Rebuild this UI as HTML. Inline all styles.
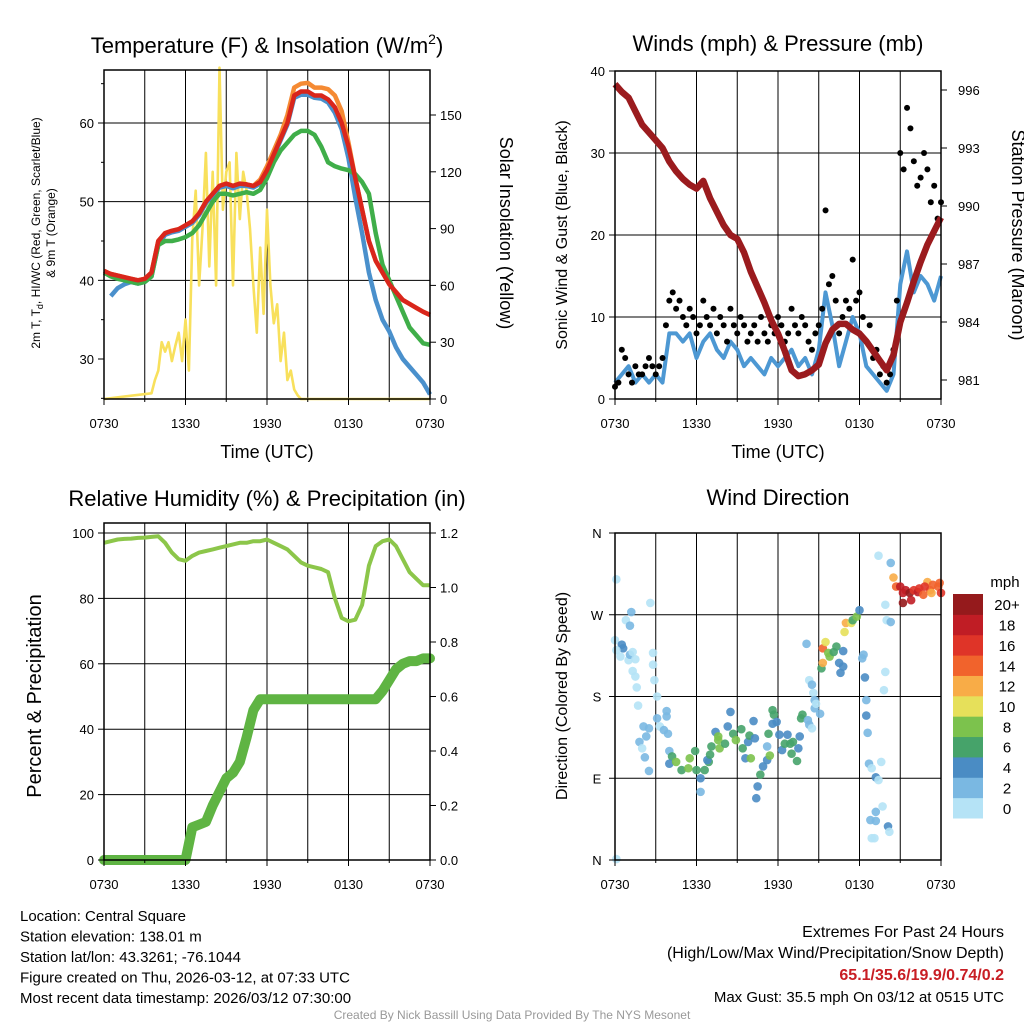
<!DOCTYPE html>
<html><head><meta charset="utf-8"><style>
html,body{margin:0;padding:0;background:#fff;}
svg{display:block;font-family:"Liberation Sans",Arial,sans-serif;}
</style></head><body>
<svg id="root" width="1024" height="1024" viewBox="0 0 1024 1024" xmlns="http://www.w3.org/2000/svg"></svg>
<script>
// ---- data ----
const xTickLabels = ['0730','1330','1930','0130','0730'];
const hours = [0,0.5,1,1.5,2,2.5,3,3.5,4,4.5,5,5.5,6,6.5,7,7.5,8,8.5,9,9.5,10,10.5,11,11.5,12,12.5,13,13.5,14,14.5,15,15.5,16,16.5,17,17.5,18,18.5,19,19.5,20,20.5,21,21.5,22,22.5,23,23.5,24];
const tempRed = [41.2,40.8,40.6,40.4,40.2,40,40.2,41,45,46,46.3,46.5,47,47.5,48.5,50,51,52,52.3,52,52.3,52.2,52,52.5,54,56,58,60,63.5,64,64,63.5,63.5,63,62,60,57,53,49,45,42.5,41,39.5,38.5,37.5,37,36.5,36,35.6];
const tempOrange = [41.2,40.8,40.6,40.4,40.2,40,40.2,41,45,46,46.3,46.5,47,47.5,48.5,50,51,52,52.3,52,52.3,52.2,52,52.8,54.5,56.5,58.5,61,64.5,65,65.1,64.5,64.5,64.3,63.5,61.5,57.5,53,49,45,42.5,41,39.5,38.5,37.5,37,36.5,36,35.6];
const tempGreen = [41,40.5,40.2,40,39.8,39.6,39.8,40.5,44.5,45,45,45.2,45.5,46,47,48.5,50,51,51,50.8,51,51.2,51,51.5,53,55,56.5,57.5,58.5,59,59,58.5,57,55,54.5,54.2,54,53.5,52.5,51,46,42,40,38,36,34,33,32,31.8];
const tempBlue = [null,38,39,39.5,39.8,39.6,39.8,40.5,44.5,45.8,46.1,46.3,46.8,47.3,48.3,49.8,50.8,51.8,52,51.7,52,52,51.8,52.3,53.8,55.8,57.8,59.8,63.2,63.6,63.6,63.2,63.1,62.6,61.3,59.2,55.5,50.5,46,41,37.5,35,33.5,31.5,30,29,28,27,25.5];
const insolHours = [0,3.5,3.75,4,4.25,4.5,4.75,5,5.25,5.5,5.75,6,6.25,6.5,6.75,7,7.25,7.5,7.75,8,8.25,8.5,8.75,9,9.25,9.5,9.75,10,10.25,10.5,10.75,11,11.25,11.5,11.75,12,12.25,12.5,12.75,13,13.25,13.5,13.75,14,14.25,14.5,24];
const insolValues = [0,3,10,15,30,25,30,20,28,35,20,42,15,85,110,60,90,130,70,120,60,175,100,120,125,60,130,95,120,110,90,60,35,80,45,100,60,40,50,20,35,10,15,5,2,0,0];
const windSpeed = [2,3,4,2,3,2,3,2,8,8,7,8,5,7,8,6,5,7,6,4,5,4,3,5,4,5,6,4,5,3,6,13,9,4,7,10,8,4,3,2,1,3,14,18,13,15,14,12,15];
const gustHours = [0,0.25,0.5,0.75,1,1.25,1.5,1.75,2,2.25,2.5,2.75,3,3.25,3.5,3.75,4,4.25,4.5,4.75,5,5.25,5.5,5.75,6,6.25,6.5,6.75,7,7.25,7.5,7.75,8,8.25,8.5,8.75,9,9.25,9.5,9.75,10,10.25,10.5,10.75,11,11.25,11.5,11.75,12,12.25,12.5,12.75,13,13.25,13.5,13.75,14,14.25,14.5,14.75,15,15.25,15.5,15.75,16,16.25,16.5,16.75,17,17.25,17.5,17.75,18,18.25,18.5,18.75,19,19.25,19.5,19.75,20,20.25,20.5,20.75,21,21.25,21.5,21.75,22,22.25,22.5,22.75,23,23.25,23.5,23.75,24];
const gustValues = [1.5,2,6,5,3,2,4,3,3,4,5,4,3,4,5,9,12,13,11,12,10,9,11,10,8,9,12,10,9,11,8,10,9,7,11,9,8,10,9,7,8,9,7,10,8,7,9,8,10,9,7,8,11,9,8,10,9,7,6,8,9,11,23,14,15,12,8,10,12,11,17,12,13,10,7,9,5,6,3,4,2,3,6,12,30,28,35.5,33,29,26,27,30,28,24,26,22,24,21,21];
const pressure = [996.3,995.9,995.6,994.9,994.2,993.8,993.4,993,992.3,991.8,991.4,991.1,990.9,991.3,990.4,989.7,989,988.5,988.3,987.6,986.6,985.8,985,984.1,983.4,982.5,981.5,981.2,981.3,981.5,981.8,982.9,983.6,983.9,983.9,983.6,983.4,983,982.5,982,981.5,982.3,984,985,986.1,987.1,988,988.7,989.4];
const rhValues = [97,97.5,98,98.2,98.3,98.5,98.6,98.8,99,97,94,92,91.5,93,94,94.5,95,95.5,96,96.5,97,97,97.5,97.5,98,97,96,95,93,91,90,89.5,89,88,80,74,73,73.5,78,90,96,97.5,98,96,92,88,86,84,84];
const precipValues = [0,0,0,0,0,0,0,0,0,0,0,0,0,0.12,0.13,0.14,0.2,0.25,0.3,0.32,0.36,0.45,0.55,0.59,0.59,0.59,0.59,0.59,0.59,0.59,0.59,0.59,0.59,0.59,0.59,0.59,0.59,0.59,0.59,0.59,0.59,0.62,0.66,0.7,0.72,0.73,0.73,0.74,0.74];
const dirHours = [0.1,2.6,1.2,0.8,1.1,0.0,0.5,0.6,0.1,0.4,1.0,1.1,1.3,1.5,2.8,2.8,1.3,1.5,2.9,1.6,3.1,1.7,2.1,2.5,2.3,1.8,2.0,2.2,2.5,3.1,3.8,3.8,3.3,3.6,3.9,4.0,4.2,4.0,4.5,4.9,5.4,5.5,5.9,6.0,6.3,6.3,6.6,6.9,6.8,7.0,7.1,7.4,7.6,7.6,7.7,8.1,8.3,8.5,8.7,8.9,9.3,9.4,9.6,9.8,9.9,10.0,10.2,10.3,10.4,10.5,10.7,10.9,11.2,11.2,11.3,11.4,11.6,11.7,11.6,11.9,12.1,12.3,12.5,12.7,12.9,13.0,13.1,13.4,13.5,13.6,13.7,13.8,14.2,14.3,14.5,14.7,14.6,14.7,14.8,15.1,14.3,14.1,14.5,15.2,15.3,15.3,15.5,15.7,15.8,16.1,16.3,16.5,16.6,16.8,16.8,16.9,17.0,17.4,17.5,17.8,18.0,18.2,18.3,18.4,18.5,18.5,18.6,18.7,18.9,19.2,19.4,19.6,18.8,19.2,19.2,19.7,20.1,20.2,18.9,19.1,19.4,20.3,19.9,20.0,20.3,19.9,19.8,20.5,20.7,21.0,21.2,21.2,21.4,21.7,21.8,22.0,22.3,22.4,22.7,23.0,23.2,23.4,23.8,23.9,24.0,22.8,23.3,0.1];
const dirValues = [309,283,273,264,258,242,237,233,231,224,220,226,229,221,228,215,208,202,198,190,180,170,147,145,136,130,123,113,98,156,164,158,147,143,139,120,114,106,108,99,101,112,120,99,90,75,99,108,110,116,125,141,136,132,123,128,147,163,139,132,144,123,112,130,137,112,153,134,68,81,94,103,110,125,139,115,165,160,150,152,138,121,128,138,128,117,130,109,123,136,156,160,154,149,145,167,184,176,172,161,198,238,193,211,217,233,240,228,224,229,235,217,206,213,230,251,261,261,264,268,275,222,226,201,176,159,140,106,101,91,88,108,44,53,43,59,37,31,24,24,335,327,281,264,262,207,187,311,301,301,283,294,297,294,286,297,295,299,292,306,297,303,301,305,294,301,294,1];
const dirSpeeds = [0,0,2,0,2,1,4,4,1,0,0,2,1,0,1,1,1,0,1,0,0,0,2,2,2,2,1,2,2,2,2,2,1,2,2,2,6,4,8,6,8,8,6,6,4,2,6,6,4,6,6,4,8,8,8,6,4,4,6,8,6,6,4,4,6,8,4,4,4,4,6,4,4,2,6,8,6,6,4,4,4,4,6,4,6,6,6,6,4,4,6,6,2,2,1,2,1,2,1,2,1,2,2,6,12,14,10,8,8,6,6,4,4,4,4,10,12,10,6,8,4,2,2,4,2,4,2,2,0,4,0,0,2,2,2,0,4,0,0,0,0,2,1,0,2,0,0,12,14,18,20,18,18,20,18,16,18,16,14,12,14,14,14,14,16,16,12,1];
const cbLabels = ['0','2','4','6','8','10','12','14','16','18','20+'];
const cbColors = ['#b5e3f6','#7ab8e2','#4a8cc4','#46a36a','#7cc24d','#e6e05a','#f8ac47','#f1632c','#df3428','#c01d25','#951a1c'];

// ---- helpers ----
const NS='http://www.w3.org/2000/svg';
const root=document.getElementById('root');
function mk(tag,attrs,name,inter,parent){
  const el=document.createElementNS(NS,tag);
  for(const k in attrs) el.setAttribute(k,attrs[k]);
  
  
  (parent||root).appendChild(el);
  return el;
}
function txt(x,y,s,size,name,opts){
  opts=opts||{};
  const a={x:x,y:y,'font-size':size,'text-anchor':opts.anchor||'middle',fill:opts.fill||'#000'};
  if(opts.rot!==undefined) a.transform='rotate('+opts.rot+' '+x+' '+y+')';
  if(opts.weight) a['font-weight']=opts.weight;
  const t=mk('text',a,name,false,opts.parent);
  t.textContent=s;
  return t;
}
function span(t,s,attrs){
  const sp=document.createElementNS(NS,'tspan');
  for(const k in attrs) sp.setAttribute(k,attrs[k]);
  sp.textContent=s;t.appendChild(sp);return sp;
}
function makeX(x0,x1){return h=>x0+(x1-x0)*h/24;}
function makeY(y0,y1,v0,v1){return v=>y0+(y1-y0)*(v-v0)/(v1-v0);}
function pathFrom(xs,ys,fx,fy){
  let d='',pen=false;
  for(let i=0;i<xs.length;i++){
    if(ys[i]===null||ys[i]===undefined){pen=false;continue;}
    d+=(pen?'L':'M')+fx(xs[i]).toFixed(1)+' '+fy(ys[i]).toFixed(1);
    pen=true;
  }
  return d;
}
function frame(L,T,R,B,name){
  const g=mk('g',{},name,false);
  for(let k=1;k<8;k++){
    const x=L+(R-L)*k/8;
    mk('line',{x1:x,y1:T,x2:x,y2:B,stroke:'#000','stroke-width':1},'x-gridline',false,g);
  }
  return g;
}
function box(L,T,R,B,name){
  mk('rect',{x:L,y:T,width:R-L,height:B-T,fill:'none',stroke:'#000','stroke-width':1.5},name,false);
}
function xAxis(L,R,B,name){
  const g=mk('g',{},name,false);
  for(let i=0;i<xTickLabels.length;i++){
    const x=L+(R-L)*i/4;
    mk('line',{x1:x,y1:B,x2:x,y2:B+6,stroke:'#000','stroke-width':1},'x-tick',false,g);
    txt(x,B+29,xTickLabels[i],13,'x-tick-label',{parent:g});
  }
  for(let k=1;k<8;k+=2){
    const x=L+(R-L)*k/8;
    mk('line',{x1:x,y1:B,x2:x,y2:B+3,stroke:'#000','stroke-width':1},'x-minor-tick',false,g);
  }
}
function hGrid(L,R,ys,name){
  ys.forEach(y=>mk('line',{x1:L,y1:y,x2:R,y2:y,stroke:'#000','stroke-width':1},name,false));
}

// ================= Panel 1: Temperature =================
(function(){
  const L=104,R=430,T=70,B=399;
  const fx=makeX(L,R), fy=makeY(359,123,30,60), fi=makeY(399,115,0,150);
  frame(L,T,R,B,'temp-grid');
  hGrid(L,R,[40,50,60].map(fy),'temp-y-gridline');
  mk('path',{d:pathFrom(insolHours,insolValues,fx,fi),fill:'none',stroke:'#f8e05c','stroke-width':2.6,'stroke-linejoin':'round'},'insolation-line',false);
  mk('path',{d:pathFrom(hours,tempOrange,fx,fy),fill:'none',stroke:'#f58a33','stroke-width':4.5,'stroke-linejoin':'round'},'9m-temp-line',false);
  mk('path',{d:pathFrom(hours,tempBlue,fx,fy),fill:'none',stroke:'#4a90cc','stroke-width':4.5,'stroke-linejoin':'round'},'wind-chill-line',false);
  mk('path',{d:pathFrom(hours,tempGreen,fx,fy),fill:'none',stroke:'#3fae49','stroke-width':4.5,'stroke-linejoin':'round'},'dewpoint-line',false);
  mk('path',{d:pathFrom(hours,tempRed,fx,fy),fill:'none',stroke:'#d9261c','stroke-width':4.5,'stroke-linejoin':'round'},'temperature-line',false);
  box(L,T,R,B,'temp-plot-frame');
  xAxis(L,R,B,'temp-x-axis');
  [30,40,50,60].forEach(v=>{
    mk('line',{x1:L-6,y1:fy(v),x2:L,y2:fy(v),stroke:'#000'},'temp-y-tick',false);
    txt(L-10,fy(v)+5,String(v),13,'temp-y-tick-label',{anchor:'end'});
  });
  [25,35,45,55,65].forEach(v=>mk('line',{x1:L-3,y1:fy(v),x2:L,y2:fy(v),stroke:'#000'},'temp-y-minor-tick',false));
  [0,30,60,90,120,150].forEach(v=>{
    mk('line',{x1:R,y1:fi(v),x2:R+6,y2:fi(v),stroke:'#000'},'insol-y-tick',false);
    txt(R+10,fi(v)+5,String(v),13,'insol-y-tick-label',{anchor:'start'});
  });
  const t=txt(267,53,'Temperature (F) & Insolation (W/m',22,'temp-chart-title');
  span(t,'2',{dy:'-9','font-size':'14'});
  span(t,')',{dy:'9'});
  const a=txt(40,233,'2m T, T',12,'temp-y-axis-title',{rot:-90});
  span(a,'d',{dy:'3','font-size':'9'});
  span(a,', HI/WC (Red, Green, Scarlet/Blue)',{dy:'-3'});
  txt(55,233,'& 9m T (Orange)',12,'temp-y-axis-title-line2',{rot:-90});
  txt(267,458,'Time (UTC)',18,'temp-x-axis-title');
  txt(500,233,'Solar Insolation (Yellow)',18,'insol-y-axis-title',{rot:90});
})();

// ================= Panel 2: Winds =================
(function(){
  const L=615,R=941,T=71,B=399;
  const fx=makeX(L,R), fw=makeY(399,71,0,40), fp=makeY(380,90,981,996);
  frame(L,T,R,B,'wind-grid');
  hGrid(L,R,[10,20,30].map(fw),'wind-y-gridline');
  mk('path',{d:pathFrom(hours,windSpeed,fx,fw),fill:'none',stroke:'#4d98d3','stroke-width':4,'stroke-linejoin':'round'},'sonic-wind-line',false);
  const g=mk('g',{},'gust-points',false);
  for(let i=0;i<gustHours.length;i++){
    mk('circle',{cx:fx(gustHours[i]),cy:fw(gustValues[i]),r:3,fill:'#000'},'gust-point',false,g);
  }
  mk('path',{d:pathFrom(hours,pressure,fx,fp),fill:'none',stroke:'#9b1b1e','stroke-width':6.5,'stroke-linejoin':'round'},'pressure-line',false);
  box(L,T,R,B,'wind-plot-frame');
  xAxis(L,R,B,'wind-x-axis');
  [0,10,20,30,40].forEach(v=>{
    mk('line',{x1:L-6,y1:fw(v),x2:L,y2:fw(v),stroke:'#000'},'wind-y-tick',false);
    txt(L-10,fw(v)+5,String(v),13,'wind-y-tick-label',{anchor:'end'});
  });
  [981,984,987,990,993,996].forEach(v=>{
    mk('line',{x1:R,y1:fp(v),x2:R+6,y2:fp(v),stroke:'#000'},'pressure-y-tick',false);
    txt(R+17,fp(v)+5,String(v),13,'pressure-y-tick-label',{anchor:'start'});
  });
  txt(778,51,'Winds (mph) & Pressure (mb)',22,'wind-chart-title');
  txt(778,458,'Time (UTC)',18,'wind-x-axis-title');
  txt(567,235,'Sonic Wind & Gust (Blue, Black)',16,'wind-y-axis-title',{rot:-90});
  txt(1012,235,'Station Pressure (Maroon)',18,'pressure-y-axis-title',{rot:90});
})();

// ================= Panel 3: RH & Precip =================
(function(){
  const L=104,R=430,T=523,B=860;
  const fx=makeX(L,R), fr=makeY(860,533,0,100), fq=makeY(860,533,0,1.2);
  frame(L,T,R,B,'rh-grid');
  hGrid(L,R,[20,40,60,80,100].map(fr),'rh-y-gridline');
  mk('path',{d:pathFrom(hours,rhValues,fx,fr),fill:'none',stroke:'#8cc64a','stroke-width':4,'stroke-linejoin':'round'},'rh-line',false);
  mk('path',{d:pathFrom(hours,precipValues,fx,fq),fill:'none',stroke:'#5fb443','stroke-width':10,'stroke-linejoin':'round','stroke-linecap':'round'},'precip-line',false);
  box(L,T,R,B,'rh-plot-frame');
  xAxis(L,R,B,'rh-x-axis');
  [0,20,40,60,80,100].forEach(v=>{
    mk('line',{x1:L-6,y1:fr(v),x2:L,y2:fr(v),stroke:'#000'},'rh-y-tick',false);
    txt(L-10,fr(v)+5,String(v),13,'rh-y-tick-label',{anchor:'end'});
  });
  [0,0.2,0.4,0.6,0.8,1.0,1.2].forEach(v=>{
    mk('line',{x1:R,y1:fq(v),x2:R+6,y2:fq(v),stroke:'#000'},'precip-y-tick',false);
    txt(R+10,fq(v)+5,v.toFixed(1),13,'precip-y-tick-label',{anchor:'start'});
  });
  txt(267,506,'Relative Humidity (%) & Precipitation (in)',22,'rh-chart-title');
  txt(41,696,'Percent & Precipitation',20,'rh-y-axis-title',{rot:-90});
})();

// ================= Panel 4: Wind Direction =================
(function(){
  const L=615,R=941,T=533,B=860;
  const fx=makeX(L,R), fd=makeY(860,533,0,360);
  frame(L,T,R,B,'dir-grid');
  hGrid(L,R,[90,180,270].map(fd),'dir-y-gridline');
  function col(s){let k=Math.floor(s/2);if(k>10)k=10;if(k<0)k=0;return cbColors[k];}
  const g=mk('g',{},'direction-points',false);
  for(let i=0;i<dirHours.length;i++){
    mk('circle',{cx:fx(dirHours[i]),cy:fd(dirValues[i]),r:4.3,fill:col(dirSpeeds[i]),opacity:0.9},'direction-point',false,g);
  }
  box(L,T,R,B,'dir-plot-frame');
  xAxis(L,R,B,'dir-x-axis');
  const dl=['N','E','S','W','N'];
  [0,90,180,270,360].forEach((v,i)=>{
    mk('line',{x1:L-6,y1:fd(v),x2:L,y2:fd(v),stroke:'#000'},'dir-y-tick',false);
    txt(L-18,fd(v)+5,dl[i],13,'dir-y-tick-label',{anchor:'middle'});
  });
  txt(778,505,'Wind Direction',22,'dir-chart-title');
  txt(567,696,'Direction (Colored By Speed)',16,'dir-y-axis-title',{rot:-90});
  const cb=mk('g',{},'speed-colorbar',false);
  const cbT=594,cbB=818,n=cbColors.length,h=(cbB-cbT)/n;
  for(let i=0;i<n;i++){
    const y=cbB-(i+1)*h;
    mk('rect',{x:953,y:y,width:30,height:h+0.5,fill:cbColors[i]},'colorbar-bin',false,cb);
    txt(1007,y+h/2+6,cbLabels[i],15,'colorbar-label',{parent:cb});
  }
  txt(1005,587,'mph',15,'colorbar-unit',{parent:cb});
})();

// ================= Footer text =================
const leftLines=['Location: Central Square','Station elevation: 138.01 m','Station lat/lon: 43.3261; -76.1044','Figure created on Thu, 2026-03-12, at 07:33 UTC','Most recent data timestamp: 2026/03/12 07:30:00'];
leftLines.forEach((s,i)=>txt(20,921+i*20.5,s,15,'station-info-line',{anchor:'start'}));
txt(1004,937,'Extremes For Past 24 Hours',16,'extremes-title',{anchor:'end'});
txt(1004,958,'(High/Low/Max Wind/Precipitation/Snow Depth)',16,'extremes-subtitle',{anchor:'end'});
txt(1004,980,'65.1/35.6/19.9/0.74/0.2',16,'extremes-values',{anchor:'end',fill:'#c81e24',weight:'bold'});
txt(1004,1002,'Max Gust: 35.5 mph On 03/12 at 0515 UTC',15,'max-gust-text',{anchor:'end'});
txt(512,1019,'Created By Nick Bassill Using Data Provided By The NYS Mesonet',12,'credit-text',{fill:'#999'});
</script>
</body></html>
